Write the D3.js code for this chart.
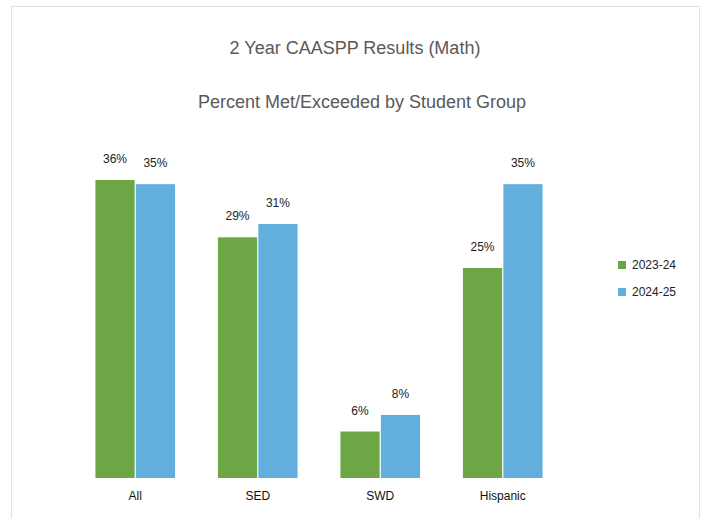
<!DOCTYPE html>
<html>
<head>
<meta charset="utf-8">
<script src="https://cdn.jsdelivr.net/npm/d3@7"></script>
<style>
  body { margin: 0; background: #fff; }
  svg { display: block; }
</style>
</head>
<body>
<div id="chart"></div>
<script>
// data
var groups = ["All", "SED", "SWD", "Hispanic"];
var years = ["2023-24", "2024-25"];
var pct2324 = [35.9, 29.0, 5.6, 25.3];
var pct2425 = [35.4, 30.6, 7.6, 35.4];
var colors = ["#6ca645", "#62aedd"];

var width = 708, height = 518;

var svg = d3.select("#chart").append("svg")
    .attr("width", width)
    .attr("height", height);

// faint frame of the chart area
svg.append("rect")
    .attr("x", 11.5).attr("y", 6.5)
    .attr("width", 688).attr("height", 520)
    .attr("fill", "none")
    .attr("stroke", "#e2e2e2");

// titles
svg.append("text")
    .attr("x", 355).attr("y", 54)
    .attr("text-anchor", "middle")
    .style("font-family", "Liberation Sans, Arial, sans-serif")
    .style("font-size", "18px")
    .attr("fill", "#595959")
    .text("2 Year CAASPP Results (Math)");

svg.append("text")
    .attr("x", 362).attr("y", 108)
    .attr("text-anchor", "middle")
    .style("font-family", "Liberation Sans, Arial, sans-serif")
    .style("font-size", "18px")
    .attr("fill", "#595959")
    .text("Percent Met/Exceeded by Student Group");

// scales
var x = d3.scaleBand()
    .domain(groups)
    .range([74, 564])
    .paddingInner(0.35)
    .paddingOuter(0.175);

var xSub = d3.scaleBand()
    .domain(years)
    .range([0, x.bandwidth()])
    .paddingInner(0.03);

var y = d3.scaleLinear()
    .domain([0, 40])
    .range([478, 146]);

var rows = groups.map(function(g, i) {
  return { group: g, values: [pct2324[i], pct2425[i]] };
});

var g = svg.selectAll(".grp")
  .data(rows)
  .enter()
  .append("g")
    .attr("class", "grp")
    .attr("transform", d => `translate(${x(d.group)},0)`);

var cells = g.selectAll(".bar")
  .data(d => d.values.map((v, j) => ({ year: years[j], value: v, j: j })))
  .enter();

cells.append("rect")
    .attr("class", "bar")
    .attr("x", d => xSub(d.year))
    .attr("y", d => y(d.value))
    .attr("width", xSub.bandwidth())
    .attr("height", d => y(0) - y(d.value))
    .attr("fill", d => colors[d.j]);

// value labels above bars
cells.append("text")
    .attr("x", d => xSub(d.year) + xSub.bandwidth() / 2)
    .attr("y", d => y(d.value) - 17)
    .attr("text-anchor", "middle")
    .style("font-family", "Liberation Sans Narrow, Liberation Sans, Arial, sans-serif")
    .style("font-size", "12px")
    .attr("fill", "#222")
    .text(d => Math.round(d.value) + "%");

// category axis labels
svg.append("g")
    .attr("transform", `translate(0,${y(0)})`)
    .call(d3.axisBottom(x).tickSize(0).tickPadding(13))
    .call(a => a.select(".domain").remove())
    .selectAll("text")
    .style("font-family", "Liberation Sans, Arial, sans-serif")
    .style("font-size", "12px")
    .attr("fill", "#111");

// legend
var legend = svg.selectAll(".legend")
  .data(years)
  .enter()
  .append("g")
    .attr("class", "legend")
    .attr("transform", (d, i) => `translate(618,${265 + i * 27})`);

legend.append("rect")
    .attr("x", 0).attr("y", -4)
    .attr("width", 8).attr("height", 8)
    .attr("fill", (d, i) => colors[i]);

legend.append("text")
    .attr("x", 14).attr("y", 0)
    .attr("dy", "0.35em")
    .style("font-family", "Liberation Sans, Arial, sans-serif")
    .style("font-size", "12px")
    .attr("fill", "#222")
    .text(d => d);
</script>
</body>
</html>
